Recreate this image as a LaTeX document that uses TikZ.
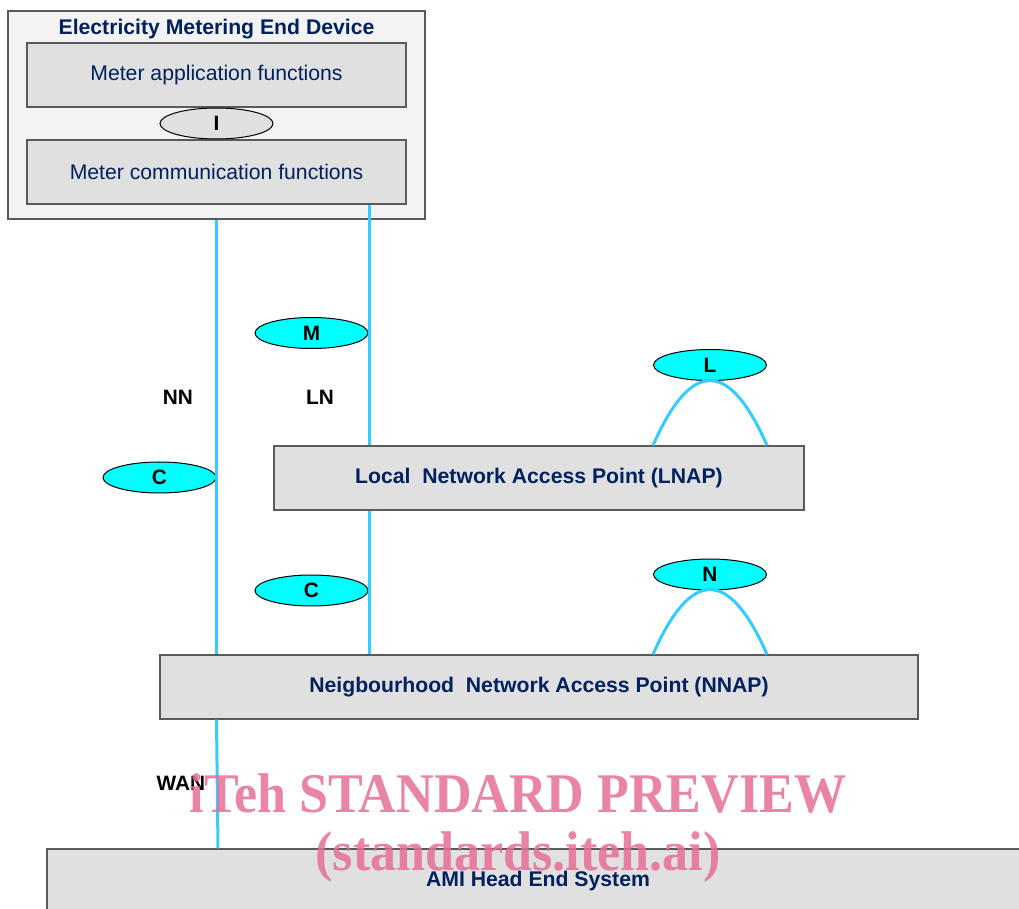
\documentclass[tikz,border=0pt]{standalone}
\usepackage{fontspec}
\setmainfont{Liberation Sans}
\newfontfamily\wmfont{Liberation Serif}
\usetikzlibrary{shapes.geometric}

\definecolor{navy}{RGB}{0,32,96}
\definecolor{boxline}{RGB}{90,90,90}
\definecolor{boxgray}{RGB}{224,224,224}
\definecolor{devgray}{RGB}{243,243,243}
\definecolor{ifcyan}{RGB}{0,255,255}
\definecolor{linkblue}{RGB}{51,204,255}
\definecolor{wmpink}{RGB}{230,110,150}

\begin{document}
\begin{tikzpicture}[
    x=0.5pt, y=-0.5pt,
    devbox/.style={rectangle, draw=boxline, fill=devgray, line width=0.6pt, minimum width=208.5pt, minimum height=104pt, inner sep=0pt},
    fnbox/.style={rectangle, draw=boxline, fill=boxgray, line width=0.6pt, minimum width=189.5pt, minimum height=32pt, inner sep=0pt, text=navy, font=\fontsize{10.6}{12}\selectfont},
    apbox/.style={rectangle, draw=boxline, fill=boxgray, line width=0.6pt, minimum height=32pt, inner sep=0pt, text=navy, font=\fontsize{10.6}{12}\selectfont\bfseries},
    iface/.style={ellipse, draw=black, fill=ifcyan, line width=0.5pt, minimum width=56.5pt, minimum height=15.5pt, inner sep=0pt, font=\fontsize{10.4}{11}\selectfont\bfseries},
    lbl/.style={font=\fontsize{10.4}{11}\selectfont\bfseries},
    link/.style={draw=linkblue, line width=1.5pt},
    wmark/.style={text=wmpink, opacity=0.85, font=\wmfont\fontsize{28}{30}\selectfont\bfseries, anchor=base, xscale=0.93}
]
\useasboundingbox (0,0) rectangle (1019,909);
\clip (0,0) rectangle (1019,909);

% --- End device ---
\node[devbox] (dev) at (216.5,115) {};
\node[text=navy, font=\fontsize{10.6}{12}\selectfont\bfseries] (devtitle) at (216.5,29) {Electricity Metering End Device};
\node[fnbox] (app) at (216.5,75) {Meter application functions};
\node[fnbox] (comm) at (216.5,172) {Meter communication functions};
\node[iface, fill=boxgray] (ifI) at (216.5,123.5) {I};

% --- Access points ---
\node[apbox, minimum width=265pt] (lnap) at (539,478) {Local\ \ Network Access Point (LNAP)};
\node[apbox, minimum width=379pt] (nnap) at (539,687) {Neigbourhood\ \ Network Access Point (NNAP)};
\node[apbox, minimum width=491pt] (hes) at (538,881) {AMI Head End System};

% --- Interfaces ---
\node[iface] (ifM) at (311.5,333) {M};
\node[iface] (ifCn) at (159.5,477.5) {C};
\node[iface] (ifCl) at (311.5,590.5) {C};
\node[iface] (ifL) at (710,365) {L};
\node[iface] (ifN) at (710,574.5) {N};

% Netzlabels
\node[lbl] (nn) at (178,397) {NN};
\node[lbl] (ln) at (320,397) {LN};
\node[lbl] (wan) at (181,783) {WAN};

% --- Links ---
\draw[link] (dev.south) -- (dev.south |- nnap.north);
\draw[link] (dev.south |- nnap.south) -- (218,0 |- hes.north);
\draw[link] (369,0 |- comm.south) -- (369,0 |- lnap.north);
\draw[link] (369,0 |- lnap.south) -- (369,0 |- nnap.north);
\draw[link] (653,0 |- lnap.north) .. controls (691,359) and (729,359) .. (767,0 |- lnap.north);
\draw[link] (653,0 |- nnap.north) .. controls (691,568) and (729,568) .. (767,0 |- nnap.north);

% --- Wasserzeichen ---
\node[wmark] (wm1) at (518,812) {iTeh STANDARD PREVIEW};
\node[wmark] (wm2) at (518,870) {(standards.iteh.ai)};
\end{tikzpicture}
\end{document}
